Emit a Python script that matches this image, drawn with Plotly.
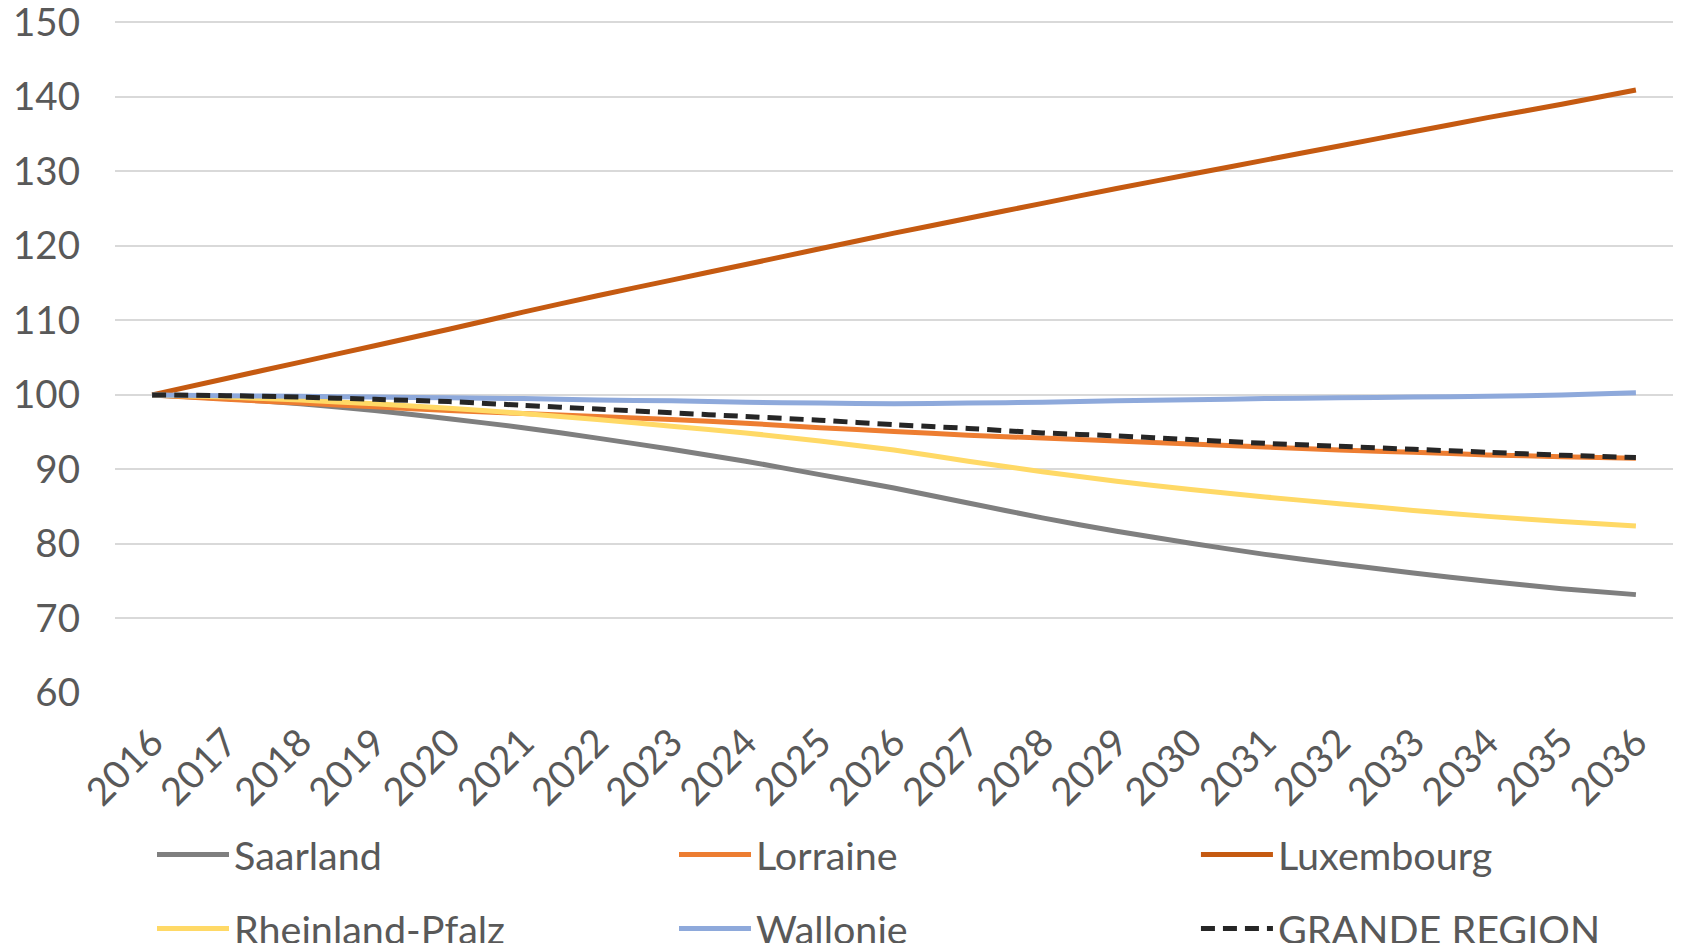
import plotly.graph_objects as go

years = [str(y) for y in range(2016, 2037)]

saarland = [100, 99.5, 98.8, 97.9, 96.8, 95.6, 94.2, 92.7, 91.1, 89.3, 87.5,
            85.5, 83.5, 81.7, 80.1, 78.6, 77.3, 76.1, 75.0, 74.0, 73.2]
lorraine = [100, 99.4, 98.9, 98.4, 97.9, 97.5, 97.1, 96.7, 96.2, 95.6, 95.1,
            94.6, 94.2, 93.8, 93.4, 93.0, 92.6, 92.3, 91.95, 91.7, 91.5]
luxembourg = [100, 102.2, 104.4, 106.6, 108.8, 111.1, 113.3, 115.4, 117.5, 119.6, 121.7,
              123.7, 125.7, 127.7, 129.6, 131.5, 133.4, 135.3, 137.2, 139.0, 140.9]
rheinland_pfalz = [100, 99.7, 99.3, 98.8, 98.2, 97.5, 96.7, 95.8, 94.9, 93.8, 92.6,
                   91.1, 89.7, 88.4, 87.3, 86.3, 85.4, 84.5, 83.7, 83.0, 82.4]
wallonie = [100, 99.9, 99.8, 99.7, 99.6, 99.5, 99.3, 99.2, 99.0, 98.9, 98.8,
            98.9, 99.0, 99.2, 99.35, 99.5, 99.6, 99.7, 99.8, 100.0, 100.3]
grande_region = [100, 99.9, 99.7, 99.4, 99.1, 98.6, 98.1, 97.6, 97.1, 96.6, 96.0,
                 95.5, 94.9, 94.5, 94.0, 93.5, 93.1, 92.7, 92.3, 91.9, 91.6]

series_names = ["Saarland", "Lorraine", "Luxembourg",
                "Rheinland-Pfalz", "Wallonie", "GRANDE REGION"]
series_values = [saarland, lorraine, luxembourg, rheinland_pfalz, wallonie, grande_region]
series_colors = ["#7F7F7F", "#ED7D31", "#C55A11", "#FFD966", "#8EA9DB", "#262626"]
series_dash = ["solid", "solid", "solid", "solid", "solid", "14px,8px"]

font_family = "Lato, Carlito, Calibri, sans-serif"
tick_color = "#595959"
fsize = 38.5
legend_fsize = 39.5

# legend slots: 3 columns x 2 rows
leg_x = [0.02375, 0.3588, 0.6938]
leg_y = [-0.2403, -0.3503]

fig = go.Figure()
legends = {}
for i, (name, vals, color, dash) in enumerate(zip(series_names, series_values,
                                                   series_colors, series_dash)):
    lid = "legend" if i == 0 else f"legend{i + 1}"
    fig.add_trace(go.Scatter(
        x=years, y=vals, name=name, mode="lines",
        line=dict(color=color, width=5, dash=dash, shape="spline", smoothing=0.6),
        legend=lid,
    ))
    legends[lid] = dict(
        x=leg_x[i % 3], y=leg_y[i // 3], xanchor="left", yanchor="middle",
        orientation="h", itemwidth=72,
        font=dict(family=font_family, size=legend_fsize, color=tick_color),
        bgcolor="rgba(0,0,0,0)",
    )

fig.update_layout(
    width=1688, height=943,
    margin=dict(l=107, r=23, t=12.4, b=257.7, autoexpand=False),
    paper_bgcolor="white", plot_bgcolor="white",
    font=dict(family=font_family, size=fsize, color=tick_color),
    showlegend=True,
    xaxis=dict(
        type="category", tickangle=-45, showgrid=False, zeroline=False,
        showline=False, ticks="", ticklabelstandoff=18,
        tickfont=dict(family=font_family, size=fsize, color=tick_color),
        range=[-0.5, 20.5],
    ),
    yaxis=dict(
        range=[60, 150.3], dtick=10, tick0=60, showgrid=True, gridcolor="#D9D9D9",
        gridwidth=1.5, zeroline=False, showline=False, ticks="",
        ticklabelstandoff=34, ticklabeloverflow="allow",
        tickfont=dict(family=font_family, size=fsize, color=tick_color),
    ),
    **legends,
)

fig.write_html("out.html")
